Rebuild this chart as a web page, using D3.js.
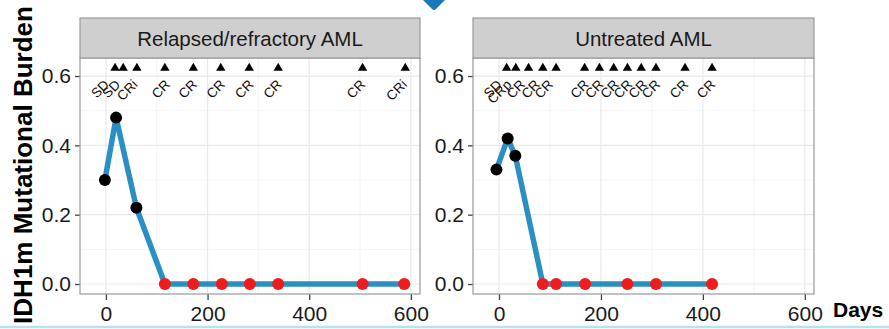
<!DOCTYPE html>
<html>
<head>
<meta charset="utf-8">
<script src="https://cdn.jsdelivr.net/npm/d3@7"></script>
<style>
  html, body { margin: 0; padding: 0; background: #ffffff; }
  svg { display: block; font-family: "Liberation Sans", Arial, Helvetica, sans-serif; }
</style>
</head>
<body>
<svg id="chart" width="889" height="329"></svg>
<script>
// ---------- data ----------
const panelTitles = ["Relapsed/refractory AML", "Untreated AML"];

const rrDays    = [-2, 20, 60, 116, 172, 228, 283, 339, 505, 587];
const rrBurden  = [0.30, 0.48, 0.22, 0, 0, 0, 0, 0, 0, 0];
const unDays    = [-5, 17, 32, 86, 112, 169, 252, 308, 418];
const unBurden  = [0.33, 0.42, 0.37, 0, 0, 0, 0, 0, 0];

const rrRespDays      = [18, 34, 61, 116, 172, 226, 282, 339, 505, 589];
const rrRespLabelDays = [3, 25, 59, 123, 176, 231, 287, 343, 507, 589];
const rrRespLabels    = ["SD", "SD", "CRi", "CR", "CR", "CR", "CR", "CR", "CR", "CRi"];

const unRespDays      = [15, 33, 58, 86, 112, 168, 197, 225, 252, 279, 308, 365, 418];
const unRespLabelDays = [2, 21, 48, 77, 103, 173, 202, 232, 258, 287, 313, 368, 421];
const unRespLabels    = ["SD", "CRp", "CR", "CR", "CR", "CR", "CR", "CR", "CR", "CR", "CR", "CR", "CR"];

const xTicks = [0, 200, 400, 600];
const xMinor = [100, 300, 500];
const yTicks = [0, 0.2, 0.4, 0.6];
const yMinor = [0.1, 0.3, 0.5];
const xDomain = [-51, 618];
const yDomain = [-0.0288, 0.652];
const respY = 0.623;
const labelY = 0.58;

const yTitle = "IDH1m Mutational Burden";
const xTitle = "Days";

// ---------- layout ----------
const svg = d3.select("#chart");
const panelTop = 58, panelBottom = 294, stripTop = 18;
const panelsX = [[80, 420], [473, 814]];

const panelData = [
  { title: panelTitles[0], days: rrDays, burden: rrBurden, resp: rrRespDays, labDays: rrRespLabelDays, labs: rrRespLabels },
  { title: panelTitles[1], days: unDays, burden: unBurden, resp: unRespDays, labDays: unRespLabelDays, labs: unRespLabels }
];

const y = d3.scaleLinear().domain(yDomain).range([panelBottom, panelTop]);

// decorative video-ui marks
svg.append("path")
  .attr("d", "M419,-4 L449,-4 L436,9 Q434,11 432,9 Z")
  .attr("fill", "#1c76bb");
svg.append("line")
  .attr("x1", 0).attr("x2", 889).attr("y1", 327).attr("y2", 327)
  .attr("stroke", "#b5e2f5").attr("stroke-width", 2.5);

panelData.forEach((p, i) => {
  const [x0, x1] = panelsX[i];
  const x = d3.scaleLinear().domain(xDomain).range([x0, x1]);
  const g = svg.append("g");

  g.append("rect").attr("x", x0).attr("y", panelTop).attr("width", x1 - x0).attr("height", panelBottom - panelTop)
    .attr("fill", "#ffffff");

  // minor grid
  g.selectAll(".vmin").data(xMinor).join("line")
    .attr("x1", d => x(d)).attr("x2", d => x(d)).attr("y1", panelTop).attr("y2", panelBottom)
    .attr("stroke", "#f4f4f4").attr("stroke-width", 1);
  g.selectAll(".hmin").data(yMinor).join("line")
    .attr("x1", x0).attr("x2", x1).attr("y1", d => y(d)).attr("y2", d => y(d))
    .attr("stroke", "#f4f4f4").attr("stroke-width", 1);
  // major grid
  g.selectAll(".vmaj").data(xTicks).join("line")
    .attr("x1", d => x(d)).attr("x2", d => x(d)).attr("y1", panelTop).attr("y2", panelBottom)
    .attr("stroke", "#e9e9e9").attr("stroke-width", 1.2);
  g.selectAll(".hmaj").data(yTicks).join("line")
    .attr("x1", x0).attr("x2", x1).attr("y1", d => y(d)).attr("y2", d => y(d))
    .attr("stroke", "#e9e9e9").attr("stroke-width", 1.2);

  // axes
  const xAxis = d3.axisBottom(x).tickValues(xTicks).tickFormat(d3.format("d")).tickSize(6).tickPadding(5);
  const gx = g.append("g").attr("transform", `translate(0,${panelBottom})`).call(xAxis);
  gx.select(".domain").remove();
  gx.selectAll("line").attr("stroke", "#444").attr("stroke-width", 1.3);
  gx.selectAll("text").attr("font-size", 21).attr("fill", "#1a1a1a").attr("dy", "0.75em")
    .attr("font-family", "Liberation Sans, Arial, sans-serif");

  const yAxis = d3.axisLeft(y).tickValues(yTicks).tickFormat(d3.format(".1f")).tickSize(5).tickPadding(4);
  const gy = g.append("g").attr("transform", `translate(${x0},0)`).call(yAxis);
  gy.select(".domain").remove();
  gy.selectAll("line").attr("stroke", "#444").attr("stroke-width", 1.3);
  gy.selectAll("text").attr("font-size", 21).attr("fill", "#1a1a1a")
    .attr("font-family", "Liberation Sans, Arial, sans-serif");

  // line
  const pts = p.days.map((d, k) => ({ day: d, v: p.burden[k] }));
  g.append("path").datum(pts)
    .attr("d", d3.line().x(d => x(d.day)).y(d => y(d.v)))
    .attr("fill", "none").attr("stroke", "#2a8fc3").attr("stroke-width", 5.5)
    .attr("stroke-linejoin", "round");

  // points
  g.selectAll(".pt").data(pts).join("circle")
    .attr("cx", d => x(d.day)).attr("cy", d => y(d.v)).attr("r", 6)
    .attr("fill", d => d.v === 0 ? "#ee1c1c" : "#000000");

  // response triangles
  g.selectAll(".tri").data(p.resp).join("path")
    .attr("d", d3.symbol().type(d3.symbolTriangle).size(38))
    .attr("transform", d => `translate(${x(d)},${y(respY)})`)
    .attr("fill", "#000");

  // response labels
  g.selectAll(".lab").data(p.labDays.map((d, k) => ({ day: d, t: p.labs[k] }))).join("text")
    .attr("transform", d => `translate(${x(d.day)},${y(labelY)}) rotate(-45)`)
    .attr("text-anchor", "end").attr("dominant-baseline", "middle")
    .attr("font-size", 13.5).attr("fill", "#111")
    .text(d => d.t);

  // panel border
  g.append("rect").attr("x", x0).attr("y", panelTop).attr("width", x1 - x0).attr("height", panelBottom - panelTop)
    .attr("fill", "none").attr("stroke", "#9a9a9a").attr("stroke-width", 1.2);

  // strip
  g.append("rect").attr("x", x0).attr("y", stripTop).attr("width", x1 - x0).attr("height", panelTop - stripTop)
    .attr("fill", "#cfcfcf").attr("stroke", "#9a9a9a").attr("stroke-width", 1.2);
  g.append("text").attr("x", (x0 + x1) / 2).attr("y", 46).attr("text-anchor", "middle")
    .attr("font-size", 20.5).attr("fill", "#1a1a1a").text(p.title);
});

// axis titles
svg.append("text")
  .attr("transform", "translate(32,165) rotate(-90)")
  .attr("text-anchor", "middle").attr("font-weight", "bold").attr("font-size", 26)
  .attr("fill", "#000").text(yTitle);
svg.append("text")
  .attr("x", 833).attr("y", 317).attr("font-weight", "bold").attr("font-size", 21)
  .attr("fill", "#000").text(xTitle);
</script>
</body>
</html>
